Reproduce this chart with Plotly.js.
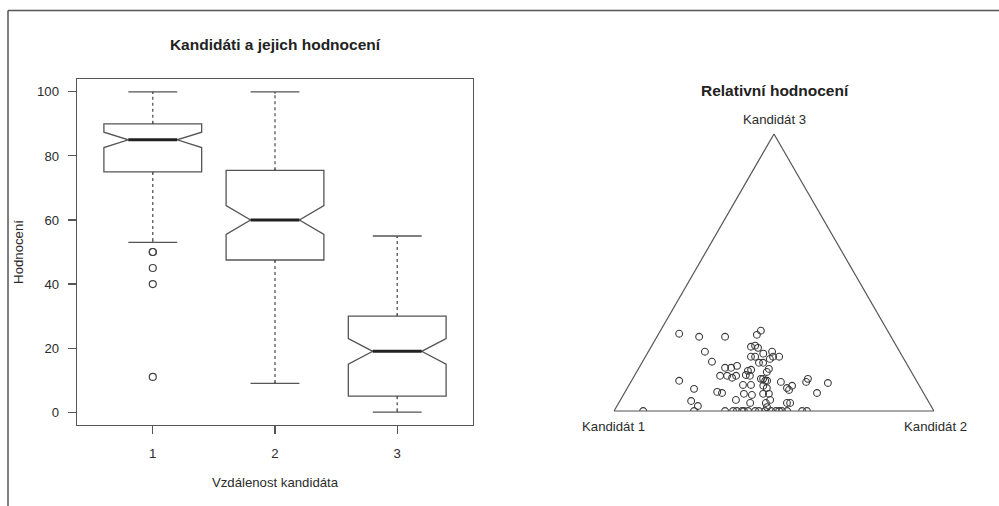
<!DOCTYPE html>
<html><head><meta charset="utf-8">
<script src="https://cdn.plot.ly/plotly-3.0.1.min.js"></script>
<style>html,body{margin:0;padding:0;background:#fff;} #chart{width:999px;height:506px;}</style>
</head><body><div id="chart"></div>
<script>
// ---- Boxplot data: "Kandidáti a jejich hodnocení" ----
const distances = [1, 2, 3];
const q1Vals = [75, 47.5, 5];
const medianVals = [85, 60, 19];
const q3Vals = [90, 75.5, 30];
const lowerWhisker = [53, 9, 0];
const upperWhisker = [100, 100, 55];
const notchHalfSpan = [2.4, 4.5, 4.0];
const outlierPos = [1, 1, 1, 1, 1];
const outlierVals = [50, 50, 45, 40, 11];
const yTickVals = [0, 20, 40, 60, 80, 100];

// ---- Ternary data: "Relativní hodnocení" (percent shares) ----
const kand3 = [27.9,26.8,26.8,27.5,29.0,21.4,17.8,10.9,8.0,6.9,6.5,3.6,1.8,
  15.6,15.6,16.3,12.7,12.7,12.0,12.7,
  23.2,23.6,22.8,20.7,21.4,19.6,19.6,18.8,19.6,19.6,17.4,17.4,15.2,
  14.5,14.9,13.0,12.7,11.6,11.6,10.9,9.4,9.4,9.1,8.3,10.5,6.2,5.8,6.2,6.2,4.0,2.9,2.9,4.0,1.4,2.9,10.9,14.1,
  10.5,11.6,10.1,6.5,8.3,9.1,7.6,2.9,
  0,0,0,0,0,0,0,0,0,0,0,0,0,0,0,0,0,0];
const kand2 = [6.4,13.2,21.3,30.9,31.4,17.7,21.7,14.9,21.0,28.8,30.5,22.3,25.3,
  26.9,28.8,30.3,26.8,29.0,30.9,31.8,
  31.2,32.3,33.6,36.3,38.7,39.9,41.8,39.3,33.0,34.3,36.6,37.9,40.8,
  34.6,35.4,34.7,36.1,40.1,40.8,41.8,35.6,38.1,42.1,43.6,46.9,37.5,40.2,43.5,45.3,36.1,41.1,46.0,46.8,47.1,52.6,42.4,40.7,
  54.8,54.8,61.8,60.2,49.9,51.1,50.9,53.6,
  9.1,25.0,34.7,37.2,38.4,40.0,40.6,41.9,44.1,45.3,47.2,49.1,50.6,51.6,52.5,54.1,58.8,60.3];
const kand1 = [65.7,60.0,51.9,41.6,39.6,60.9,60.5,74.2,71.0,64.3,63.0,74.1,72.9,
  57.5,55.6,53.4,60.5,58.3,57.1,55.5,
  45.6,44.1,43.6,43.0,39.9,40.5,38.6,41.9,47.4,46.1,46.0,44.7,44.0,
  50.9,49.7,52.3,51.2,48.3,47.6,47.3,55.0,52.5,48.8,48.1,42.6,56.3,54.0,50.3,48.5,59.9,56.0,51.1,49.2,51.5,44.5,46.7,45.2,
  34.7,33.6,28.1,33.3,41.8,39.8,41.5,43.5,
  90.9,75.0,65.3,62.8,61.6,60.0,59.4,58.1,55.9,54.7,52.8,50.9,49.4,48.4,47.5,45.9,41.2,39.7];

// ---- geometry helpers (page is 999x506, margins 0) ----
const W = 999, H = 506;
const px = x => x / W;
const py = y => 1 - y / H;
const LINE = '#555';
const TXT = '#2b2b2b';
const BOX_W = 0.8;
const FONT = 'Liberation Sans, Arial, Helvetica, sans-serif';
const FS = 13.2;     // general text size
const FS_T = 15.5;   // title size

// whisker overlays (dotted, R style)
const wx = [], wyWhite = [], wyDot = [];
const eps = 0.6;
distances.forEach((d, i) => {
  wx.push(d, d, null, d, d, null);
  wyWhite.push(q3Vals[i] + eps, upperWhisker[i] - eps, null, q1Vals[i] - eps, lowerWhisker[i] + eps, null);
  wyDot.push(q3Vals[i], upperWhisker[i], null, q1Vals[i], lowerWhisker[i], null);
});
const mx = [], my = [];
distances.forEach((d, i) => {
  mx.push(d - BOX_W / 4, d + BOX_W / 4, null);
  my.push(medianVals[i], medianVals[i], null);
});

const traces = [
  {
    type: 'box', x: distances, q1: q1Vals, median: medianVals, q3: q3Vals,
    lowerfence: lowerWhisker, upperfence: upperWhisker, notchspan: notchHalfSpan,
    notched: true, notchwidth: 0.25, width: BOX_W, whiskerwidth: 0.5,
    line: {color: LINE, width: 1.3}, fillcolor: 'rgba(255,255,255,0)',
    boxpoints: false, hoverinfo: 'y', showlegend: false
  },
  { type: 'scatter', mode: 'lines', x: wx, y: wyWhite, line: {color: '#ffffff', width: 4},
    hoverinfo: 'skip', showlegend: false },
  { type: 'scatter', mode: 'lines', x: wx, y: wyDot, line: {color: LINE, width: 1.3, dash: '3px,3px'},
    hoverinfo: 'skip', showlegend: false },
  { type: 'scatter', mode: 'lines', x: mx, y: my, line: {color: '#222', width: 3},
    hoverinfo: 'skip', showlegend: false },
  { type: 'scatter', mode: 'markers', x: outlierPos, y: outlierVals,
    marker: {symbol: 'circle-open', size: 7, color: '#444', line: {width: 1.2}},
    showlegend: false },
  { type: 'scatterternary', mode: 'markers', a: kand3, b: kand1, c: kand2,
    marker: {symbol: 'circle-open', size: 6.8, color: '#3a3a3a', line: {width: 1.1}},
    showlegend: false }
];

const triAxis = {showgrid: false, showticklabels: false, ticks: '', showline: true,
  linecolor: LINE, linewidth: 1.2, title: {text: ''}};

const layout = {
  width: W, height: H,
  margin: {l: 0, r: 0, t: 0, b: 0},
  paper_bgcolor: '#ffffff', plot_bgcolor: '#ffffff',
  font: {family: FONT, color: TXT, size: FS},
  showlegend: false,
  title: {text: '<b>Kandidáti a jejich hodnocení</b>', font: {size: FS_T, color: '#222'},
    x: px(275), xref: 'paper', xanchor: 'center', y: py(50), yref: 'container', yanchor: 'bottom'},
  xaxis: {domain: [px(77), px(473)], range: [0.38, 3.62], tickvals: distances,
    ticks: 'outside', ticklen: 8, tickwidth: 1.2, tickcolor: LINE,
    showline: true, mirror: true, linecolor: LINE, linewidth: 1.3,
    showgrid: false, zeroline: false, ticklabelstandoff: 8,
    tickfont: {size: FS, color: TXT},
    title: {text: 'Vzdálenost kandidáta', standoff: 17, font: {size: FS, color: TXT}}},
  yaxis: {domain: [py(425), py(79)], range: [-4, 104], tickvals: yTickVals,
    ticks: 'outside', ticklen: 8, tickwidth: 1.2, tickcolor: LINE,
    showline: true, mirror: true, linecolor: LINE, linewidth: 1.3,
    showgrid: false, zeroline: false, ticklabelstandoff: 6,
    tickfont: {size: FS, color: TXT},
    title: {text: 'Hodnocení', standoff: 10, font: {size: FS, color: TXT}}},
  ternary: {
    domain: {x: [px(614), px(934)], y: [py(411), py(134)]},
    sum: 100, bgcolor: '#ffffff',
    aaxis: triAxis, baxis: triAxis, caxis: triAxis
  },
  annotations: [
    {text: '<b>Relativní hodnocení</b>', x: px(775), y: py(91), xref: 'paper', yref: 'paper',
      showarrow: false, xanchor: 'center', yanchor: 'middle', font: {size: FS_T, color: '#222'}},
    {text: 'Kandidát 3', x: px(774), y: py(120), xref: 'paper', yref: 'paper',
      showarrow: false, xanchor: 'center', yanchor: 'middle', font: {size: FS, color: TXT}},
    {text: 'Kandidát 1', x: px(613), y: py(426), xref: 'paper', yref: 'paper',
      showarrow: false, xanchor: 'center', yanchor: 'middle', font: {size: FS, color: TXT}},
    {text: 'Kandidát 2', x: px(935), y: py(426), xref: 'paper', yref: 'paper',
      showarrow: false, xanchor: 'center', yanchor: 'middle', font: {size: FS, color: TXT}}
  ],
  shapes: [
    {type: 'line', xref: 'paper', yref: 'paper', x0: px(8), x1: 1, y0: py(10.5), y1: py(10.5),
      line: {color: LINE, width: 1.5}},
    {type: 'line', xref: 'paper', yref: 'paper', x0: px(8), x1: px(8), y0: py(10.5), y1: 0,
      line: {color: LINE, width: 1.5}}
  ]
};

Plotly.newPlot('chart', traces, layout, {displayModeBar: false, staticPlot: true});
</script>
</body></html>
